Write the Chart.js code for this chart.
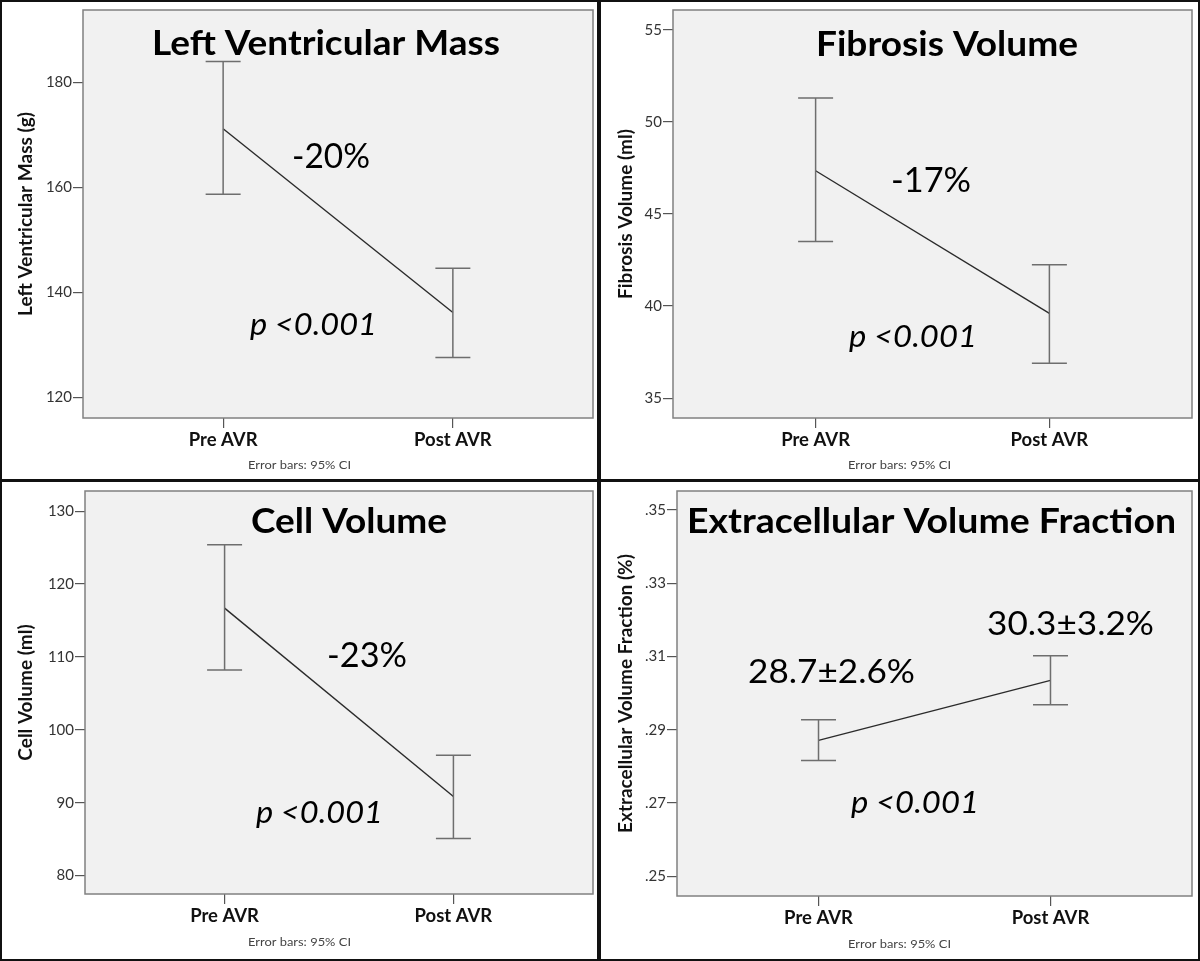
<!DOCTYPE html>
<html>
<head>
<meta charset="utf-8">
<script src="https://cdn.jsdelivr.net/npm/chart.js@4.4.1/dist/chart.umd.min.js"></script>
<style>
html,body{margin:0;padding:0;background:#fff;}
#wrap{position:relative;width:1200px;height:961px;overflow:hidden;background:#fff;}
canvas{position:absolute;}
.frame{position:absolute;border:2px solid #111;box-sizing:border-box;pointer-events:none;}
</style>
</head>
<body>
<div id="wrap">
  <canvas id="c1" width="598" height="480" style="left:0px;top:0px"></canvas>
  <canvas id="c2" width="600" height="480" style="left:600px;top:0px"></canvas>
  <canvas id="c3" width="598" height="480" style="left:0px;top:481px"></canvas>
  <canvas id="c4" width="600" height="480" style="left:600px;top:481px"></canvas>
  <div class="frame" style="left:0;top:0;width:599px;height:481px"></div>
  <div class="frame" style="left:599px;top:0;width:601px;height:481px"></div>
  <div class="frame" style="left:0;top:480px;width:599px;height:481px"></div>
  <div class="frame" style="left:599px;top:480px;width:601px;height:481px"></div>
</div>
<script>
// ---------------- DATA ----------------
const categories = ['Pre AVR', 'Post AVR'];

const lvMassMean  = [171.2, 136.2];
const lvMassLower = [158.7, 127.6];
const lvMassUpper = [184.0, 144.6];
const lvMassTicks = [120, 140, 160, 180];
const lvMassTickLabels = ['120', '140', '160', '180'];

const fibrosisMean  = [47.35, 39.6];
const fibrosisLower = [43.5, 36.9];
const fibrosisUpper = [51.3, 42.25];
const fibrosisTicks = [35, 40, 45, 50, 55];
const fibrosisTickLabels = ['35', '40', '45', '50', '55'];

const cellMean  = [116.7, 90.85];
const cellLower = [108.2, 85.1];
const cellUpper = [125.4, 96.5];
const cellTicks = [80, 90, 100, 110, 120, 130];
const cellTickLabels = ['80', '90', '100', '110', '120', '130'];

const ecvMean  = [0.2871, 0.3035];
const ecvLower = [0.2816, 0.2968];
const ecvUpper = [0.2927, 0.3102];
const ecvTicks = [0.25, 0.27, 0.29, 0.31, 0.33, 0.35];
const ecvTickLabels = ['.25', '.27', '.29', '.31', '.33', '.35'];

// ---------------- HELPERS ----------------
function fitText(ctx, t) {
  ctx.save();
  ctx.font = t.font;
  ctx.fillStyle = t.color || '#000';
  ctx.textBaseline = 'alphabetic';
  ctx.textAlign = 'left';
  const w = ctx.measureText(t.text).width;
  const sx = t.width ? t.width / w : 1;
  ctx.translate(t.x, t.y);
  ctx.scale(sx, 1);
  ctx.fillText(t.text, 0, 0);
  ctx.restore();
}

const decor = {
  id: 'decor',
  beforeDraw(chart) {
    const {ctx, chartArea: a} = chart;
    ctx.save();
    ctx.fillStyle = '#f1f1f1';
    ctx.fillRect(a.left, a.top, a.right - a.left, a.bottom - a.top);
    ctx.restore();
  },
  afterDatasetsDraw(chart) {
    const {ctx, chartArea: a, scales: {x, y}} = chart;
    const ds = chart.data.datasets[0];
    ctx.save();
    ctx.strokeStyle = '#6e6e6e';
    ctx.lineWidth = 1.5;
    for (let i = 0; i < ds.errLow.length; i++) {
      const px = x.getPixelForValue(i);
      const pt = y.getPixelForValue(ds.errHigh[i]);
      const pb = y.getPixelForValue(ds.errLow[i]);
      ctx.beginPath();
      ctx.moveTo(px, pt); ctx.lineTo(px, pb);
      ctx.moveTo(px - 17.5, pt); ctx.lineTo(px + 17.5, pt);
      ctx.moveTo(px - 17.5, pb); ctx.lineTo(px + 17.5, pb);
      ctx.stroke();
    }
    // plot frame
    ctx.strokeStyle = '#808080';
    ctx.lineWidth = 1.5;
    ctx.strokeRect(a.left, a.top, a.right - a.left, a.bottom - a.top);
    ctx.restore();
  },
  afterDraw(chart) {
    const ctx = chart.ctx;
    const texts = chart.config.options.plugins.decor.texts;
    texts.forEach(t => fitText(ctx, t));
  }
};

function makePanel(id, cfg) {
  return new Chart(document.getElementById(id), {
    type: 'line',
    data: {
      datasets: [{
        data: cfg.mean.map((v, i) => ({x: i, y: v})),
        errLow: cfg.lower,
        errHigh: cfg.upper,
        borderColor: '#2b2b2b',
        borderWidth: 1.4,
        pointRadius: 0,
        tension: 0,
        fill: false
      }]
    },
    options: {
      responsive: false,
      animation: false,
      devicePixelRatio: 1,
      layout: {padding: {top: cfg.padTop, right: cfg.padRight, left: 0, bottom: 0}},
      plugins: {
        legend: {display: false},
        tooltip: {enabled: false},
        decor: {texts: cfg.texts}
      },
      scales: {
        x: {
          type: 'linear', min: -0.61, max: 1.61,
          afterBuildTicks: s => { s.ticks = [{value: 0}, {value: 1}]; },
          afterFit: s => { s.height = cfg.xHeight; },
          ticks: {
            callback: v => categories[v],
            font: {family: 'Lato', size: 18.5, weight: 'bold'},
            color: '#111', padding: 1, maxRotation: 0, autoSkip: false
          },
          grid: {drawOnChartArea: false, tickLength: 10, color: '#555', lineWidth: 1.2},
          border: {display: false}
        },
        y: {
          type: 'linear', min: cfg.min, max: cfg.max,
          afterBuildTicks: s => { s.ticks = cfg.ticks.map(v => ({value: v})); },
          afterFit: s => { s.width = cfg.yWidth; },
          ticks: {
            callback: (v, i) => cfg.tickLabels[i],
            font: {family: 'Lato', size: 15},
            color: '#333', padding: 1, autoSkip: false
          },
          title: {
            display: true, text: cfg.yTitle, color: '#111',
            font: {family: 'Lato', size: 19, weight: 'bold'},
            padding: {top: 14, bottom: 0}
          },
          grid: {drawOnChartArea: false, tickLength: 10, color: '#555', lineWidth: 1.2},
          border: {display: false}
        }
      }
    },
    plugins: [decor]
  });
}

const TITLE = 'bold 34px Lato';
const BIG = '34px Lato';
const ITAL = 'italic 30px Lato';
const FOOT = '11px Lato';

function build() {
  Chart.defaults.font.family = 'Lato';
  makePanel('c1', {
    mean: lvMassMean, lower: lvMassLower, upper: lvMassUpper,
    ticks: lvMassTicks, tickLabels: lvMassTickLabels, min: 116.1, max: 193.8,
    yTitle: 'Left Ventricular Mass (g)',
    yWidth: 83, padTop: 8, padRight: 5, xHeight: 62,
    texts: [
      {text: 'Left Ventricular Mass', x: 152, y: 55, width: 348, font: TITLE},
      {text: '-20%', x: 292, y: 168, width: 78, font: BIG},
      {text: 'p <0.001', x: 250, y: 335, width: 127, font: ITAL},
      {text: 'Error bars: 95% CI', x: 248, y: 469, width: 103, font: FOOT, color: '#444'}
    ]
  });
  makePanel('c2', {
    mean: fibrosisMean, lower: fibrosisLower, upper: fibrosisUpper,
    ticks: fibrosisTicks, tickLabels: fibrosisTickLabels, min: 33.92, max: 56.08,
    yTitle: 'Fibrosis Volume (ml)',
    yWidth: 73, padTop: 10, padRight: 8, xHeight: 62,
    texts: [
      {text: 'Fibrosis Volume', x: 216, y: 56, width: 262, font: TITLE},
      {text: '-17%', x: 291, y: 192, width: 80, font: BIG},
      {text: 'p <0.001', x: 249, y: 347, width: 128, font: ITAL},
      {text: 'Error bars: 95% CI', x: 248, y: 469, width: 103, font: FOOT, color: '#444'}
    ]
  });
  makePanel('c3', {
    mean: cellMean, lower: cellLower, upper: cellUpper,
    ticks: cellTicks, tickLabels: cellTickLabels, min: 77.48, max: 132.77,
    yTitle: 'Cell Volume (ml)',
    yWidth: 85, padTop: 6, padRight: 5, xHeight: 67,
    texts: [
      {text: 'Cell Volume', x: 251, y: 52, width: 196, font: TITLE},
      {text: '-23%', x: 327, y: 186, width: 80, font: BIG},
      {text: 'p <0.001', x: 256, y: 342, width: 127, font: ITAL},
      {text: 'Error bars: 95% CI', x: 248, y: 465, width: 103, font: FOOT, color: '#444'}
    ]
  });
  makePanel('c4', {
    mean: ecvMean, lower: ecvLower, upper: ecvUpper,
    ticks: ecvTicks, tickLabels: ecvTickLabels, min: 0.2446, max: 0.3552,
    yTitle: 'Extracellular Volume Fraction (%)',
    yWidth: 77, padTop: 6, padRight: 8, xHeight: 65,
    texts: [
      {text: 'Extracellular Volume Fraction', x: 87, y: 52, width: 489, font: TITLE},
      {text: '30.3\u00b13.2%', x: 387, y: 154, width: 167, font: '33px Lato'},
      {text: '28.7\u00b12.6%', x: 148, y: 202, width: 167, font: '33px Lato'},
      {text: 'p <0.001', x: 251, y: 332, width: 128, font: ITAL},
      {text: 'Error bars: 95% CI', x: 248, y: 467, width: 103, font: FOOT, color: '#444'}
    ]
  });
}

if (document.fonts && document.fonts.load) {
  Promise.all([
    document.fonts.load(TITLE), document.fonts.load(BIG),
    document.fonts.load(ITAL), document.fonts.load('bold 18px Lato'),
    document.fonts.load('15px Lato')
  ]).then(build, build);
} else {
  build();
}
</script>
</body>
</html>
